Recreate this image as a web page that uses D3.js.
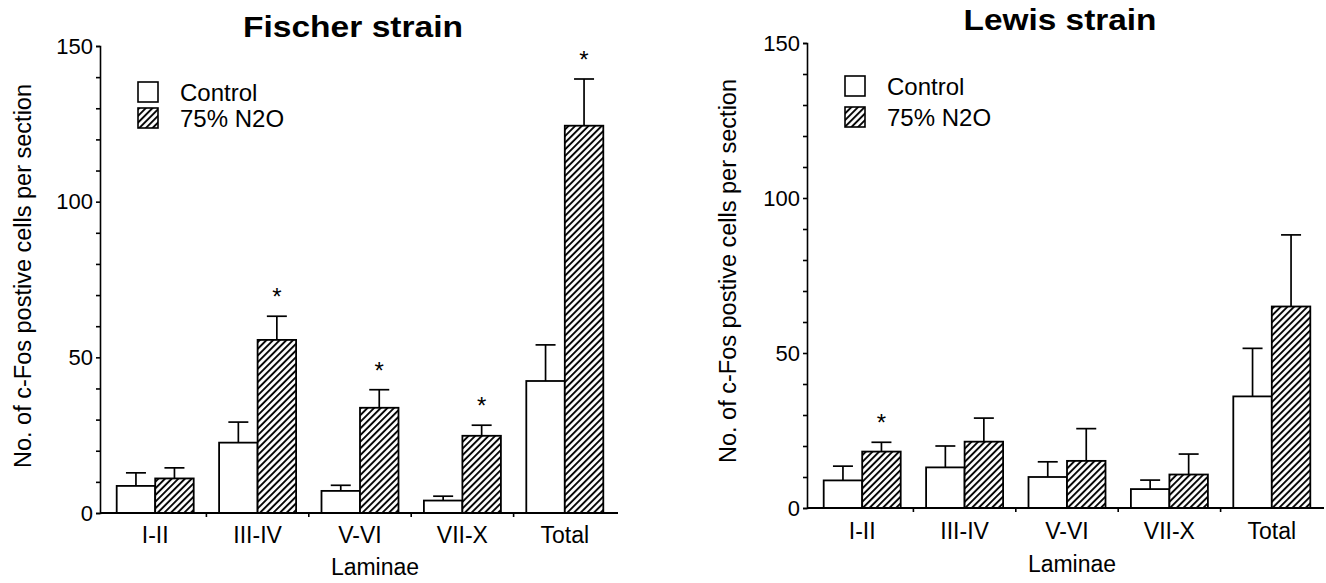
<!DOCTYPE html>
<html>
<head>
<meta charset="utf-8">
<script src="https://cdn.jsdelivr.net/npm/d3@7"></script>
<style>
  html, body { margin: 0; padding: 0; background: #fff; }
  svg { display: block; }
  text { font-family: "Liberation Sans", Arial, Helvetica, sans-serif; fill: #000; }
</style>
</head>
<body>
<svg id="chart" width="1326" height="583"></svg>
<script>
// ---- data ----
const categories = ["I-II", "III-IV", "V-VI", "VII-X", "Total"];
const seriesNames = ["Control", "75% N2O"];
const yTicks = [0, 50, 100, 150];

const fischerControl    = [8.7, 22.6, 7.1, 4.0, 42.4];
const fischerControlErr = [4.2, 6.6, 1.8, 1.4, 11.6];
const fischerN2O        = [11.1, 55.6, 33.8, 24.8, 124.4];
const fischerN2OErr     = [3.4, 7.6, 5.8, 3.4, 15.0];
const fischerSig        = [false, true, true, true, true];

const lewisControl      = [8.9, 13.1, 10.0, 6.1, 36.0];
const lewisControlErr   = [4.6, 6.9, 4.9, 2.9, 15.5];
const lewisN2O          = [18.2, 21.4, 15.2, 10.8, 65.0];
const lewisN2OErr       = [3.0, 7.6, 10.4, 6.6, 23.1];
const lewisSig          = [true, false, false, false, false];

// ---- layout (styling only) ----
const panels = [
  { title: "Fischer strain", control: fischerControl, controlErr: fischerControlErr,
    n2o: fischerN2O, n2oErr: fischerN2OErr, sig: fischerSig,
    axisX: 100, y0: 513, yTop: 46, bandL: 104, bandR: 616, axisEnd: 618,
    titleX: 353, titleY: 37, titleLen: 220,
    ylabX: 30.5, ylabY: 276, lamX: 375, lamY: 575, catY: 543,
    legX: 138, legY: [82, 108], legTextX: 180 },
  { title: "Lewis strain", control: lewisControl, controlErr: lewisControlErr,
    n2o: lewisN2O, n2oErr: lewisN2OErr, sig: lewisSig,
    axisX: 807, y0: 508, yTop: 43, bandL: 811, bandR: 1323, axisEnd: 1324,
    titleX: 1060, titleY: 30, titleLen: 193,
    ylabX: 735.5, ylabY: 271, lamX: 1072, lamY: 572, catY: 539,
    legX: 845, legY: [76, 107], legTextX: 887 }
];

const svg = d3.select("#chart");
const defs = svg.append("defs");
const pat = defs.append("pattern")
  .attr("id", "hatch")
  .attr("patternUnits", "userSpaceOnUse")
  .attr("width", 4.7).attr("height", 4.7)
  .attr("patternTransform", "rotate(45)");
pat.append("rect").attr("width", 4.7).attr("height", 4.7).attr("fill", "#fff");
pat.append("line").attr("x1", 1).attr("y1", 0).attr("x2", 1).attr("y2", 4.7)
  .attr("stroke", "#000").attr("stroke-width", 1.9);

const fills = ["#fff", "url(#hatch)"];

panels.forEach(p => {
  const g = svg.append("g");
  const y = d3.scaleLinear().domain([0, 150]).range([p.y0, p.yTop]);
  const x0 = d3.scaleBand().domain(categories).range([p.bandL, p.bandR]).padding(0);
  const step = x0.bandwidth();
  const pair = 77;
  const x1 = d3.scaleBand().domain(seriesNames).range([(step - pair) / 2, (step + pair) / 2]).padding(0);

  // title
  g.append("text")
    .attr("x", p.titleX).attr("y", p.titleY)
    .attr("text-anchor", "middle")
    .attr("font-size", 29).attr("font-weight", "bold")
    .attr("textLength", p.titleLen).attr("lengthAdjust", "spacingAndGlyphs")
    .text(p.title);

  const rows = categories.map((c, i) => ({
    cat: c,
    vals: [
      { s: seriesNames[0], v: p.control[i], e: p.controlErr[i], sig: false },
      { s: seriesNames[1], v: p.n2o[i], e: p.n2oErr[i], sig: p.sig[i] }
    ]
  }));

  const grp = g.selectAll("g.grp").data(rows).join("g")
    .attr("class", "grp")
    .attr("transform", d => `translate(${x0(d.cat)},0)`);

  // error bars (upward only)
  grp.selectAll("line.err").data(d => d.vals).join("line")
    .attr("class", "err")
    .attr("x1", d => x1(d.s) + x1.bandwidth() / 2)
    .attr("x2", d => x1(d.s) + x1.bandwidth() / 2)
    .attr("y1", d => y(d.v)).attr("y2", d => y(d.v + d.e))
    .attr("stroke", "#000").attr("stroke-width", 1.7);
  grp.selectAll("line.cap").data(d => d.vals).join("line")
    .attr("class", "cap")
    .attr("x1", d => x1(d.s) + x1.bandwidth() / 2 - 10)
    .attr("x2", d => x1(d.s) + x1.bandwidth() / 2 + 10)
    .attr("y1", d => y(d.v + d.e)).attr("y2", d => y(d.v + d.e))
    .attr("stroke", "#000").attr("stroke-width", 1.7);

  grp.selectAll("rect").data(d => d.vals).join("rect")
    .attr("x", d => x1(d.s))
    .attr("width", x1.bandwidth())
    .attr("y", d => y(d.v))
    .attr("height", d => y(0) - y(d.v))
    .attr("fill", (d, i) => fills[i])
    .attr("stroke", "#000").attr("stroke-width", 1.8);

  // significance stars
  grp.selectAll("text.star").data(d => d.vals.filter(v => v.sig)).join("text")
    .attr("class", "star")
    .attr("x", d => x1(d.s) + x1.bandwidth() / 2)
    .attr("y", d => y(d.v + d.e) - 11)
    .attr("text-anchor", "middle")
    .attr("font-size", 24)
    .text("*");

  // y axis
  const yAxis = d3.axisLeft(y)
    .tickValues(d3.range(0, 151, 10))
    .tickSize(4).tickSizeOuter(4).tickPadding(3)
    .tickFormat(d => yTicks.includes(d) ? d : "");
  const ya = g.append("g").attr("transform", `translate(${p.axisX},0)`).call(yAxis);
  ya.selectAll("path, line").attr("stroke", "#000").attr("stroke-width", 1.6);
  ya.selectAll("text").attr("font-size", 22).attr("font-family", "'Liberation Sans', Arial, sans-serif").attr("fill", "#000");

  // x axis baseline with ticks at group boundaries
  g.append("line")
    .attr("x1", p.axisX).attr("x2", p.axisEnd)
    .attr("y1", y(0)).attr("y2", y(0))
    .attr("stroke", "#000").attr("stroke-width", 1.8);
  g.selectAll("line.xt").data(categories.slice(1)).join("line")
    .attr("class", "xt")
    .attr("x1", d => x0(d)).attr("x2", d => x0(d))
    .attr("y1", y(0)).attr("y2", y(0) + 4)
    .attr("stroke", "#000").attr("stroke-width", 1.6);

  // category labels
  g.selectAll("text.cat").data(categories).join("text")
    .attr("class", "cat")
    .attr("x", d => x0(d) + step / 2)
    .attr("y", p.catY)
    .attr("text-anchor", "middle")
    .attr("font-size", 23)
    .text(d => d);

  // axis titles
  g.append("text")
    .attr("x", p.lamX).attr("y", p.lamY)
    .attr("text-anchor", "middle").attr("font-size", 23)
    .text("Laminae");
  g.append("text")
    .attr("transform", `translate(${p.ylabX},${p.ylabY}) rotate(-90)`)
    .attr("text-anchor", "middle").attr("font-size", 23.5)
    .text("No. of c-Fos postive cells per section");

  // legend
  seriesNames.forEach((s, i) => {
    g.append("rect")
      .attr("x", p.legX).attr("y", p.legY[i])
      .attr("width", 20).attr("height", 20)
      .attr("fill", fills[i]).attr("stroke", "#000").attr("stroke-width", 1.6);
    g.append("text")
      .attr("x", p.legTextX).attr("y", p.legY[i] + 10 + 8.5)
      .attr("font-size", 24)
      .text(s);
  });
});
</script>
</body>
</html>
